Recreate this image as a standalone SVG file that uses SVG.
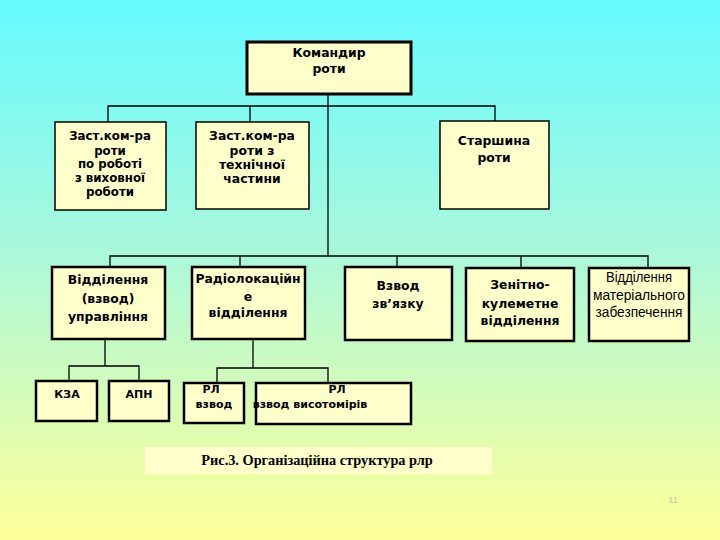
<svg xmlns="http://www.w3.org/2000/svg" width="720" height="540" viewBox="0 0 720 540">
<defs>
<linearGradient id="bg" x1="0" y1="0" x2="0" y2="1">
<stop offset="0" stop-color="#66FAFF"/>
<stop offset="0.45" stop-color="#A8F8DC"/>
<stop offset="1" stop-color="#FFFF99"/>
</linearGradient>
</defs>
<style>
.box{fill:#FFFFCC;stroke:#000}
.b1{stroke-width:1.5}
.b2{stroke-width:2.5}
.b3{stroke-width:3}
.t{font-family:"DejaVu Sans",Verdana,sans-serif;font-weight:bold;font-size:12.4px;fill:#000;text-anchor:middle}
.c{font-size:11.8px}
.s{font-size:11px}
.n{font-family:"Liberation Sans",Arial,sans-serif;font-weight:normal;font-size:14px}
.ln{fill:none;stroke:#000;stroke-width:1.3}
.cap{font-family:"Liberation Serif","Times New Roman",serif;font-weight:bold;font-size:14.3px;fill:#000;text-anchor:middle}
</style>
<rect width="720" height="540" fill="url(#bg)"/>
<g id="connectors">
<path class="ln" d="M328,94 V256"/>
<path class="ln" d="M108,122 V106 H495 V121"/>
<path class="ln" d="M250,106 V122"/>
<path class="ln" d="M110,267 V256 H648 V268"/>
<path class="ln" d="M240,256 V267"/>
<path class="ln" d="M397,256 V267"/>
<path class="ln" d="M521,256 V268"/>
<path class="ln" d="M105,339 V366"/>
<path class="ln" d="M69,381 V366 H139 V381"/>
<path class="ln" d="M253,339 V368"/>
<path class="ln" d="M217,383 V368 H328 V383"/>
</g>
<g id="commander">
<rect class="box b3" x="247" y="42" width="164" height="52"/>
<text class="t" x="329" y="57">Командир</text>
<text class="t" x="329" y="73">роти</text>
</g>
<g id="deputy-edu">
<rect class="box b1" x="55" y="122" width="111" height="88"/>
<text class="t c" x="110" y="140">Заст.ком-ра</text>
<text class="t c" x="110" y="154.5">роти</text>
<text class="t c" x="110" y="168">по роботі</text>
<text class="t c" x="110" y="182">з виховної</text>
<text class="t c" x="110" y="196">роботи</text>
</g>
<g id="deputy-tech">
<rect class="box b1" x="196" y="122" width="113" height="87"/>
<text class="t" x="252" y="140">Заст.ком-ра</text>
<text class="t" x="252" y="155">роти з</text>
<text class="t" x="252" y="169">технічної</text>
<text class="t" x="252" y="183">частини</text>
</g>
<g id="sergeant">
<rect class="box b1" x="440" y="121" width="109" height="88"/>
<text class="t" x="494" y="145">Старшина</text>
<text class="t" x="494" y="162">роти</text>
</g>
<g id="control">
<rect class="box b2" x="52" y="267" width="113" height="72"/>
<text class="t" x="108" y="284">Відділення</text>
<text class="t" x="108" y="303">(взвод)</text>
<text class="t" x="108" y="321">управління</text>
</g>
<g id="radar">
<rect class="box b2" x="192" y="267" width="113" height="72"/>
<text class="t" x="248" y="283">Радіолокаційн</text>
<text class="t" x="248" y="301">е</text>
<text class="t" x="248" y="317">відділення</text>
</g>
<g id="signal">
<rect class="box b2" x="345" y="267" width="107" height="73"/>
<text class="t" x="398" y="290">Взвод</text>
<text class="t" x="398" y="308">зв’язку</text>
</g>
<g id="aa">
<rect class="box b2" x="466" y="268" width="108" height="73"/>
<text class="t" x="520" y="289">Зенітно-</text>
<text class="t" x="520" y="308">кулеметне</text>
<text class="t" x="520" y="325">відділення</text>
</g>
<g id="supply">
<rect class="box b2" x="589" y="268" width="100" height="73"/>
<text class="t n" x="639" y="282" textLength="66" lengthAdjust="spacingAndGlyphs">Відділення</text>
<text class="t n" x="639" y="300" textLength="92" lengthAdjust="spacingAndGlyphs">матеріального</text>
<text class="t n" x="639" y="317" textLength="87" lengthAdjust="spacingAndGlyphs">забезпечення</text>
</g>
<g id="kza">
<rect class="box b2" x="36" y="381" width="61" height="40"/>
<text class="t s" x="67" y="398">КЗА</text>
</g>
<g id="apn">
<rect class="box b2" x="109" y="381" width="60" height="40"/>
<text class="t s" x="139" y="398">АПН</text>
</g>
<g id="rl-platoon">
<rect class="box b2" x="184" y="383" width="60" height="40"/>
<text class="t s" x="211" y="393">РЛ</text>
<text class="t s" x="214" y="408">взвод</text>
</g>
<g id="rl-alt">
<rect class="box b2" x="256" y="383" width="155" height="41"/>
<text class="t s" x="337" y="393">РЛ</text>
<text class="t s" x="310" y="408">взвод висотомірів</text>
</g>
<g id="caption">
<rect x="145" y="447" width="347" height="27" fill="#FFFFCC"/>
<text class="cap" x="317" y="465">Рис.3. Організаційна структура рлр</text>
</g>
<text x="673" y="503" font-family="Liberation Sans,Arial,sans-serif" font-size="9" fill="#c8c8a0" text-anchor="middle">11</text>
</svg>
